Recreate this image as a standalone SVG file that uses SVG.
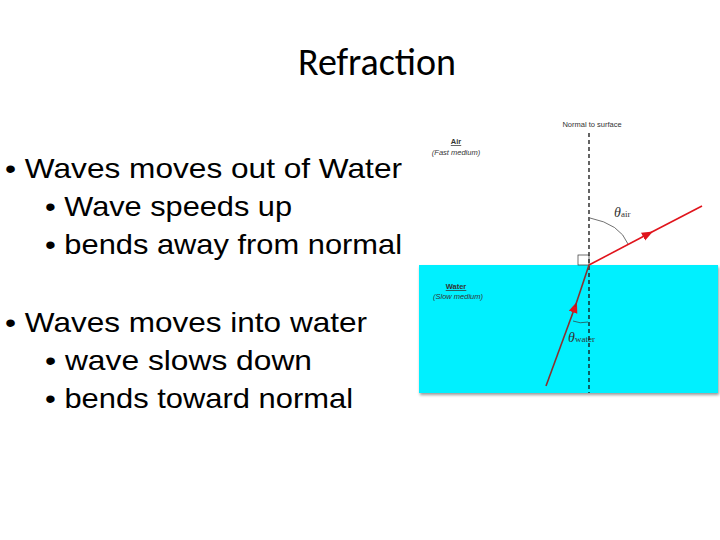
<svg xmlns="http://www.w3.org/2000/svg" width="720" height="540" viewBox="0 0 720 540">
<style>
.b{font-family:"Liberation Sans",Arial,sans-serif;font-size:28px;fill:#000}
.s{font-family:"Liberation Sans",Arial,sans-serif;font-size:7.5px;fill:#333}
.ray{stroke:#e0141c;stroke-width:1.6;fill:none}
</style>
<defs>
<marker id="ah" viewBox="0 0 10 10" refX="5" refY="5" markerWidth="7" markerHeight="7" orient="auto"><path d="M0,1 L10,5 L0,9 z" fill="#e0141c"/></marker>
<filter id="sh"><feDropShadow dx="1" dy="2" stdDeviation="1.5" flood-opacity="0.4"/></filter>
</defs>
<rect width="720" height="540" fill="#fff"/>
<text x="377" y="75" text-anchor="middle" font-family="Carlito,'Open Sans',sans-serif" font-size="38">Refraction</text>
<g id="text">
<text class="b" x="5" y="178" textLength="397" lengthAdjust="spacingAndGlyphs">• Waves moves out of Water</text>
<text class="b" x="45" y="216" textLength="247" lengthAdjust="spacingAndGlyphs">• Wave speeds up</text>
<text class="b" x="45" y="254" textLength="357" lengthAdjust="spacingAndGlyphs">• bends away from normal</text>
<text class="b" x="5" y="332" textLength="362" lengthAdjust="spacingAndGlyphs">• Waves moves into water</text>
<text class="b" x="45" y="370" textLength="267" lengthAdjust="spacingAndGlyphs">• wave slows down</text>
<text class="b" x="45" y="408" textLength="308" lengthAdjust="spacingAndGlyphs">• bends toward normal</text>
</g>
<g id="water"><rect x="419" y="265" width="299" height="128" fill="#00f0ff" filter="url(#sh)"/></g>
<g id="labels">
<text class="s" x="592" y="127" text-anchor="middle">Normal to surface</text>
<text class="s" x="456" y="144" text-anchor="middle" font-weight="bold" text-decoration="underline">Air</text>
<text class="s" x="456" y="155" text-anchor="middle" font-style="italic">(Fast medium)</text>
<text class="s" x="456" y="289" text-anchor="middle" font-weight="bold" text-decoration="underline">Water</text>
<text class="s" x="458" y="299" text-anchor="middle" font-style="italic">(Slow medium)</text>
<text x="614" y="217" font-family="'Liberation Serif',serif" font-size="14" font-style="italic" fill="#333">θ<tspan font-size="9" font-style="normal">air</tspan></text>
<text x="568" y="342" font-family="'Liberation Serif',serif" font-size="14" font-style="italic" fill="#333">θ<tspan font-size="9" font-style="normal">water</tspan></text>
</g>
<g id="connectors">
<line x1="589" y1="133" x2="589" y2="393" stroke="#111" stroke-width="1.3" stroke-dasharray="4,3"/>
<rect x="578" y="255" width="11" height="10" fill="none" stroke="#333" stroke-width="0.7"/>
<path d="M590,218 Q620,224 628,244" fill="none" stroke="#333" stroke-width="0.7"/>
<path d="M573,321 Q580,324 588,322" fill="none" stroke="#333" stroke-width="0.7"/>
<path class="ray" d="M589,265 L648,234" marker-end="url(#ah)"/>
<path class="ray" d="M648,234 L702,206"/>
<path d="M546,386 L575,307" stroke="#8a3030" stroke-width="1.6" marker-end="url(#ah)"/>
<path d="M575,307 L589,265" stroke="#8a3030" stroke-width="1.6"/>
</g>
</svg>
